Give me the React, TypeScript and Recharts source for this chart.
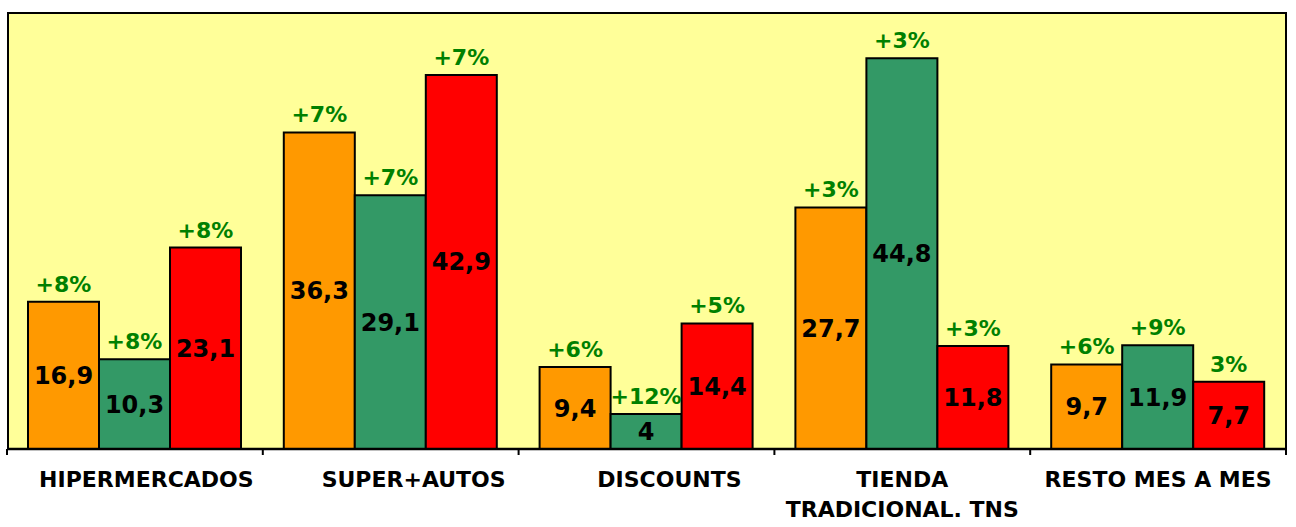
import React from 'react'
import { BarChart, Bar, XAxis, YAxis, LabelList } from 'recharts'

const categories = [
  '\u00a0\u00a0\u00a0HIPERMERCADOS',
  '\u00a0\u00a0\u00a0\u00a0\u00a0\u00a0SUPER+AUTOS',
  '\u00a0\u00a0\u00a0\u00a0\u00a0\u00a0DISCOUNTS',
  'TIENDA\nTRADICIONAL. TNS',
  'RESTO MES A MES',
]
const orangeValues = [16.9, 36.3, 9.4, 27.7, 9.7]
const greenValues = [10.3, 29.1, 4, 44.8, 11.9]
const redValues = [23.1, 42.9, 14.4, 11.8, 7.7]
const orangeGrowth = ['+8%', '+7%', '+6%', '+3%', '+6%']
const greenGrowth = ['+8%', '+7%', '+12%', '+3%', '+9%']
const redGrowth = ['+8%', '+7%', '+5%', '+3%', '3%']

const data = categories.map((name, i) => ({
  name,
  orange: orangeValues[i],
  green: greenValues[i],
  red: redValues[i],
  orangePct: orangeGrowth[i],
  greenPct: greenGrowth[i],
  redPct: redGrowth[i],
}))

const FONT = '"DejaVu Sans", Verdana, sans-serif'
const fmt = (v: any) => String(v).replace('.', ',')

const valueLabel = {
  fill: '#000',
  fontSize: 24,
  fontWeight: 'bold',
  fontFamily: FONT,
}
const pctLabel = {
  fill: '#008000',
  fontSize: 22,
  fontWeight: 'bold',
  fontFamily: FONT,
}

function CategoryTick(props: any) {
  const { x, y, payload, index } = props
  const half = payload?.offset ?? 128
  const lines = String(payload.value).split('\n')
  return (
    <g>
      <line x1={x - half} x2={x - half} y1={y - 6} y2={y} stroke="#000" strokeWidth={2} />
      {index === categories.length - 1 && (
        <line x1={x + half} x2={x + half} y1={y - 6} y2={y} stroke="#000" strokeWidth={2} />
      )}
      <text
        x={x}
        y={y + 32}
        textAnchor="middle"
        fill="#000"
        fontSize={22}
        fontWeight="bold"
        fontFamily={FONT}
      >
        {lines.map((l, i) => (
          <tspan key={i} x={x} dy={i === 0 ? 0 : 30}>
            {l}
          </tspan>
        ))}
      </text>
    </g>
  )
}

export default function App() {
  return (
    <div style={{ position: 'absolute', left: 0, top: 0, width: 1296, height: 527, background: '#fff' }}>
      <div
        style={{
          position: 'absolute',
          left: 7,
          top: 12,
          width: 1280,
          height: 438,
          background: '#FFFF99',
          border: '2px solid #000',
          boxSizing: 'border-box',
        }}
      />
      <div style={{ position: 'absolute', left: 0, top: 0 }}>
        <BarChart
          width={1296}
          height={527}
          data={data}
          margin={{ top: 13, right: 10, left: 7, bottom: 0 }}
          barCategoryGap={21}
          barGap={0}
        >
          <XAxis
            dataKey="name"
            height={78}
            interval={0}
            tickLine={false}
            tickSize={6}
            tickMargin={0}
            axisLine={{ stroke: '#000', strokeWidth: 2.5 }}
            tick={<CategoryTick />}
          />
          <YAxis hide domain={[0, 50]} width={0} />
          <Bar dataKey="orange" fill="#FF9900" stroke="#000" strokeWidth={2} isAnimationActive={false}>
            <LabelList dataKey="orange" position="center" formatter={fmt} {...valueLabel} />
            <LabelList dataKey="orangePct" position="top" offset={10} {...pctLabel} />
          </Bar>
          <Bar dataKey="green" fill="#339966" stroke="#000" strokeWidth={2} isAnimationActive={false}>
            <LabelList dataKey="green" position="center" formatter={fmt} {...valueLabel} />
            <LabelList dataKey="greenPct" position="top" offset={10} {...pctLabel} />
          </Bar>
          <Bar dataKey="red" fill="#FF0000" stroke="#000" strokeWidth={2} isAnimationActive={false}>
            <LabelList dataKey="red" position="center" formatter={fmt} {...valueLabel} />
            <LabelList dataKey="redPct" position="top" offset={10} {...pctLabel} />
          </Bar>
        </BarChart>
      </div>
    </div>
  )
}
